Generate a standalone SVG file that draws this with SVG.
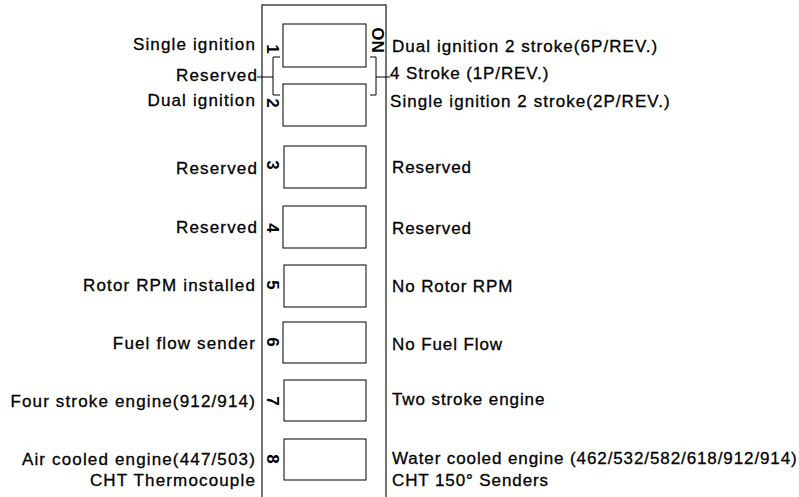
<svg xmlns="http://www.w3.org/2000/svg" width="799" height="497" viewBox="0 0 799 497">
<style>
text{font-family:"Liberation Sans",Arial,sans-serif;font-size:17px;letter-spacing:0.9px;fill:#000;stroke:#000;stroke-width:0.3px}
.l{text-anchor:end;letter-spacing:1.15px}
.r2{letter-spacing:1.05px}
.n{font-size:17px;font-weight:bold;letter-spacing:0;text-anchor:middle;dominant-baseline:central;stroke-width:0}
.sw{fill:#fff;stroke:#000;stroke-width:1}
.ln{fill:none;stroke:#000;stroke-width:1}
</style>
<rect x="0" y="0" width="799" height="497" fill="#fff"/>
<g id="body"><rect x="262" y="5" width="124" height="500" fill="none" stroke="#444" stroke-width="1.5"/></g>
<g id="sw1"><rect class="sw" x="283" y="24" width="83" height="43"/><text class="n" transform="translate(272,49) rotate(90)">1</text></g>
<g id="sw2"><rect class="sw" x="283" y="84" width="83" height="42"/><text class="n" transform="translate(272,103) rotate(90)">2</text></g>
<g id="sw3"><rect class="sw" x="284" y="146" width="82" height="42"/><text class="n" transform="translate(272,165) rotate(90)">3</text></g>
<g id="sw4"><rect class="sw" x="283" y="206" width="83" height="42"/><text class="n" transform="translate(272,228) rotate(90)">4</text></g>
<g id="sw5"><rect class="sw" x="284" y="265" width="82" height="42"/><text class="n" transform="translate(272,285) rotate(90)">5</text></g>
<g id="sw6"><rect class="sw" x="283" y="322" width="83" height="41"/><text class="n" transform="translate(272,342) rotate(90)">6</text></g>
<g id="sw7"><rect class="sw" x="284" y="380" width="82" height="41"/><text class="n" transform="translate(272,401) rotate(90)">7</text></g>
<g id="sw8"><rect class="sw" x="284" y="439" width="82" height="41"/><text class="n" transform="translate(272,459) rotate(90)">8</text></g>
<g id="on"><text class="n" transform="translate(377,40) rotate(90)">ON</text></g>
<g id="connectors">
<path class="ln" d="M280,57H273V95H280M257,77H273"/>
<path class="ln" d="M370,57H376V95H370M376,77H390"/>
</g>
<g id="left-labels">
<text class="l" x="256" y="50">Single ignition</text>
<text class="l" x="258" y="81">Reserved</text>
<text class="l" x="256" y="106">Dual ignition</text>
<text class="l" x="258" y="174">Reserved</text>
<text class="l" x="258" y="233">Reserved</text>
<text class="l" x="256" y="291">Rotor RPM installed</text>
<text class="l" x="256" y="349">Fuel flow sender</text>
<text class="l" x="256" y="407">Four stroke engine(912/914)</text>
<text class="l" x="256" y="465">Air cooled engine(447/503)</text>
<text class="l" x="256" y="486">CHT Thermocouple</text>
</g>
<g id="right-labels">
<text class="r2" x="392" y="52">Dual ignition 2 stroke(6P/REV.)</text>
<text x="390" y="79">4 Stroke (1P/REV.)</text>
<text class="r2" x="390" y="107">Single ignition 2 stroke(2P/REV.)</text>
<text x="392" y="173">Reserved</text>
<text x="392" y="234">Reserved</text>
<text x="392" y="292">No Rotor RPM</text>
<text x="392" y="350">No Fuel Flow</text>
<text x="392" y="405">Two stroke engine</text>
<text x="392" y="464">Water cooled engine (462/532/582/618/912/914)</text>
<text x="392" y="486">CHT 150° Senders</text>
</g>
</svg>
